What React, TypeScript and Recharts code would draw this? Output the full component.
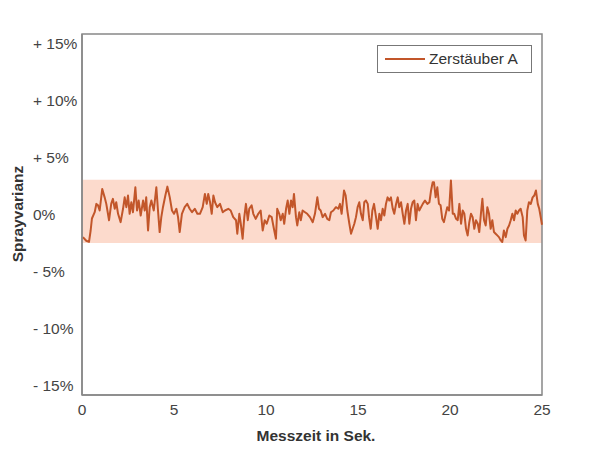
import React from 'react';
import { LineChart, Line, XAxis, YAxis, ReferenceArea } from 'recharts';

const times = [0.05,0.23,0.38,0.47,0.54,0.69,0.78,0.87,0.96,1.10,1.23,1.32,1.47,1.59,1.68,1.78,1.86,1.96,2.10,2.23,2.32,2.41,2.50,2.59,2.68,2.77,2.90,2.99,3.08,3.19,3.32,3.41,3.49,3.59,3.68,3.77,3.90,4.04,4.13,4.22,4.31,4.40,4.53,4.64,4.77,4.89,5.00,5.13,5.22,5.31,5.43,5.58,5.72,5.85,5.98,6.13,6.27,
6.41,6.56,6.68,6.78,6.86,6.96,7.05,7.14,7.23,7.35,7.50,7.65,7.77,7.95,8.08,8.22,8.37,8.44,8.55,8.63,8.73,8.82,8.91,9.01,9.09,9.22,9.31,9.44,9.58,9.71,9.82,9.93,10.04,10.18,10.31,10.43,10.54,10.61,10.72,10.80,10.91,10.99,11.09,11.18,11.27,11.36,11.45,11.52,11.63,11.70,11.81,11.89,11.99,
12.12,12.24,12.39,12.54,12.66,12.79,12.88,12.97,13.08,13.21,13.33,13.44,13.53,13.66,13.80,13.93,14.02,14.11,14.24,14.33,14.42,14.53,14.62,14.71,14.80,14.89,14.98,15.07,15.16,15.26,15.34,15.43,15.53,15.60,15.69,15.78,15.87,15.98,16.07,16.16,16.25,16.34,16.43,16.52,16.61,16.70,16.79,16.89,16.97,17.07,17.16,17.24,17.34,17.43,17.52,17.61,17.70,17.79,17.88,17.97,18.06,18.15,18.24,18.33,
18.52,18.64,18.77,18.88,18.97,19.06,19.13,19.22,19.31,19.40,19.49,19.58,19.67,19.77,19.85,19.95,20.05,20.15,20.23,20.33,20.42,20.51,20.60,20.69,20.78,20.87,20.96,21.05,21.14,21.23,21.32,21.41,21.51,21.59,21.68,21.76,21.85,21.94,22.03,22.12,22.21,22.30,22.39,22.48,22.57,22.66,22.76,22.84,22.93,23.03,23.12,23.21,23.30,23.39,23.48,23.57,23.66,23.75,23.84,23.95,24.02,24.11,24.20,24.29,24.39,24.49,24.58,24.67,24.77,24.85,24.93,25.0];

const variance = [-1.98,-2.3,-2.4,-1.4,-0.35,0.2,0.93,0.8,0.35,2.24,1.5,0.93,-0.5,0.95,1.37,0.5,1.07,0.06,-0.67,0.5,1.5,0.64,1.66,0.06,1.07,0.2,2.38,0.35,1.22,-0.09,1.22,0.35,1.5,-1.4,0.64,1.22,0.35,2.38,0.35,-1.54,-0.23,0.64,1.66,2.44,1.5,0.35,0.06,0.5,-0.23,-1.54,0.06,0.64,0.93,0.5,0.2,0.5,0.06,
0.06,0.64,1.8,0.93,1.8,1.07,0.06,1.66,1.07,0.64,0.93,0.2,0.35,0.5,0.35,-0.23,-0.5,-1.68,0.06,-0.81,-2.12,-0.23,0.93,-0.5,0.5,0.8,0.06,-0.38,0.06,0.35,-1.4,-0.5,-0.81,-0.09,-0.23,-1.25,-2.12,0.5,0.06,-0.5,0.06,-0.81,0.5,1.22,0.06,1.22,0.64,1.8,-0.23,-0.96,0.2,-0.5,0.35,
0.2,0.06,-0.23,-0.67,0.06,1.5,0.5,0.35,-0.23,0.06,-0.38,-0.5,0.2,0.35,0.64,0.5,0.93,0.06,2.1,1.66,0.35,-0.81,-1.68,-1.25,-0.81,-0.23,0.64,1.07,0.06,-0.5,1.07,1.22,0.93,-0.23,-1.25,0.35,0.93,-0.23,-1.25,0.06,-0.5,0.5,-0.09,0.93,1.5,1.22,1.5,0.5,0.06,0.93,1.5,0.64,1.07,0.06,-0.81,0.35,0.93,-0.81,0.5,1.07,1.22,-0.5,0.93,0.35,
0.93,1.22,0.93,1.07,2.1,2.82,2.82,1.5,2.38,0.93,0.8,-0.38,-0.67,0.06,0.64,0.35,2.97,0.06,0.06,-0.38,-0.5,0.93,-0.81,0.35,0.06,-1.25,-1.83,-0.67,0.06,-0.23,-1.25,-0.5,-0.81,-1.54,0.06,1.37,-0.5,-0.96,0.64,0.06,-1.25,-0.5,-1.54,-1.68,-1.83,-1.98,-2.27,-2.41,-1.4,-1.98,-1.25,-0.96,-0.5,0.06,-0.5,0.35,0.06,0.35,0.5,-0.23,-1.83,-2.27,0.35,1.07,0.93,1.5,1.66,2.1,0.93,0.5,-0.23,-0.9];

const xTicks = [0, 5, 10, 15, 20, 25];
const yTicks = [15, 10, 5, 0, -5, -10, -15];
const yTickLabels = ['+ 15%', '+ 10%', '+ 5%', '0%', '- 5%', '- 10%', '- 15%'];
const yDomain: [number, number] = [-15.8, 15.8];
const xDomain: [number, number] = [0, 25];
const bandLow = -2.5;
const bandHigh = 3.05;
const seriesName = 'Zerstäuber A';

const data = times.map((t, i) => ({ t, v: variance[i] }));

const FONT = 'Arial, "Liberation Sans", sans-serif';
const LINE_COLOR = '#c2562a';

const YTick = (props: any) => {
  const { y, payload } = props;
  const idx = yTicks.indexOf(payload.value);
  return (
    <text x={33} y={y} textAnchor="start" dominantBaseline="central" fontSize={15.5} fill="#444" fontFamily={FONT}>
      {yTickLabels[idx]}
    </text>
  );
};

const XTick = (props: any) => {
  const { x, y, payload } = props;
  return (
    <text x={x} y={y + 6} textAnchor="middle" dominantBaseline="central" fontSize={15.5} fill="#444" fontFamily={FONT}>
      {payload.value}
    </text>
  );
};

export default function App() {
  return (
    <div style={{ position: 'absolute', left: 0, top: 0, width: 600, height: 449, background: '#fff' }}>
      <LineChart width={600} height={449} data={data} margin={{ top: 34, right: 58, bottom: 0, left: 0 }}>
        <ReferenceArea y1={bandLow} y2={bandHigh} fill="#fbd3c3" fillOpacity={0.85} stroke="none" />
        <ReferenceArea x1={xDomain[0]} x2={xDomain[1]} y1={yDomain[0]} y2={yDomain[1]} fill="none" fillOpacity={0} stroke="#888" strokeWidth={1.5} />
        <XAxis
          dataKey="t"
          type="number"
          domain={xDomain}
          ticks={xTicks}
          height={54}
          stroke="#888"
          strokeWidth={1.5}
          tickLine={false}
          tick={<XTick />}
          interval={0}
        />
        <YAxis
          type="number"
          domain={yDomain}
          ticks={yTicks}
          width={82}
          stroke="#888"
          strokeWidth={1.5}
          tickLine={false}
          tick={<YTick />}
          interval={0}
          allowDataOverflow
        />
        <Line
          type="linear"
          dataKey="v"
          name={seriesName}
          stroke={LINE_COLOR}
          strokeWidth={2}
          strokeLinejoin="round"
          dot={false}
          isAnimationActive={false}
        />
        <text x={17} y={214} transform="rotate(-90 17 214)" textAnchor="middle" dominantBaseline="central" fontSize={15.5} fontWeight="bold" fill="#333" fontFamily={FONT}>
          Sprayvarianz
        </text>
        <text x={316} y={435} textAnchor="middle" dominantBaseline="central" fontSize={15.5} fontWeight="bold" fill="#333" fontFamily={FONT}>
          Messzeit in Sek.
        </text>
      </LineChart>
      <div
        style={{
          position: 'absolute',
          left: 377,
          top: 45,
          width: 155,
          height: 28,
          border: '1px solid #777',
          boxSizing: 'border-box',
          display: 'flex',
          alignItems: 'center',
          fontFamily: FONT,
          fontSize: 15.5,
          color: '#333',
          background: '#fff',
        }}
      >
        <svg width={40} height={10} style={{ marginLeft: 7 }}>
          <line x1={0} y1={5} x2={40} y2={5} stroke={LINE_COLOR} strokeWidth={2.2} />
        </svg>
        <span style={{ marginLeft: 4, whiteSpace: 'nowrap' }}>{seriesName}</span>
      </div>
    </div>
  );
}
